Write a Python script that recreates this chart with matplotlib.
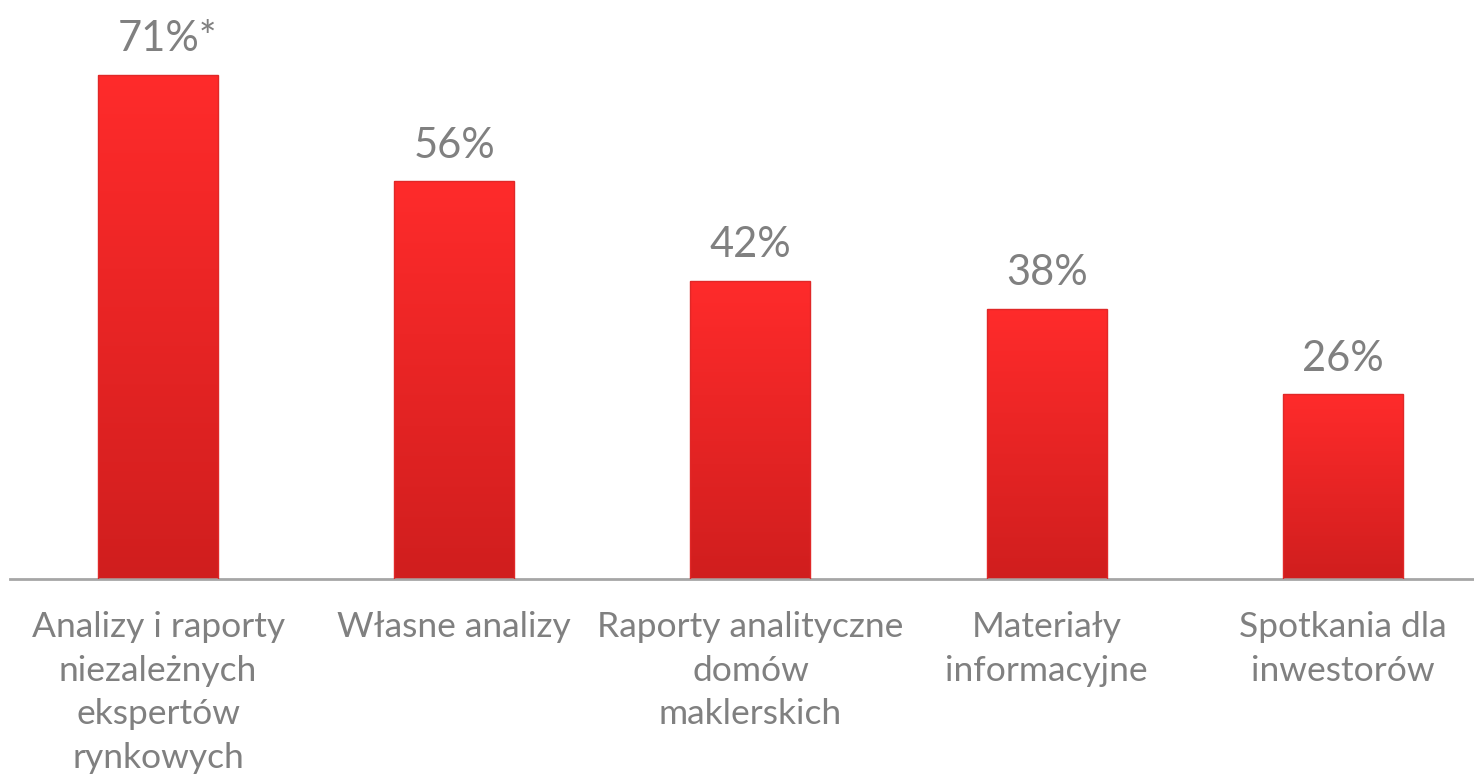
import matplotlib
matplotlib.use("Agg")
import matplotlib.pyplot as plt
import numpy as np
from matplotlib.colors import LinearSegmentedColormap

plt.rcParams["font.family"] = ["Lato", "DejaVu Sans"]

CATEGORIES = ["Analizy i raporty\nniezależnych\nekspertów\nrynkowych",
              "Własne analizy",
              "Raporty analityczne\ndomów\nmaklerskich",
              "Materiały\ninformacyjne",
              "Spotkania dla\ninwestorów"]
VALUES = [71, 56, 42, 38, 26]
LABELS = ["71%*", "56%", "42%", "38%", "26%"]

GREY = "#808080"
RED_TOP, RED_BOT = "#FF2B2B", "#D01E1E"

fig = plt.figure(figsize=(14.74, 7.78), dpi=100)
ax = fig.add_axes([10 / 1474, 199 / 778, 1 - 10 / 1474, 579 / 778])

x = np.arange(len(VALUES))
bars = ax.bar(x, VALUES, width=0.405, color="none", edgecolor="#E02828", lw=1.0, zorder=3)

# vertical gradient inside each bar
cmap = LinearSegmentedColormap.from_list("redgrad", [RED_BOT, RED_TOP])
grad = np.linspace(0, 1, 256).reshape(-1, 1)
for b in bars:
    x0, y0, w, h = b.get_x(), b.get_y(), b.get_width(), b.get_height()
    im = ax.imshow(grad, cmap=cmap, origin="lower", aspect="auto",
                   extent=(x0, x0 + w, y0, y0 + h), zorder=2)
    im.set_clip_path(b)

for xi, v, lab in zip(x, VALUES, LABELS):
    # the asterisk hangs to the right of the centred percentage
    ha = "left" if lab.endswith("*") else "center"
    dx = -29 if lab.endswith("*") else 0
    ax.annotate(lab, (xi, v), xytext=(dx, 17), textcoords="offset points",
                ha=ha, va="baseline", fontsize=30, color=GREY)

ax.set_xlim(-0.5, 4.443)
ax.set_ylim(0, 81.5)
ax.set_xticks(x)
ax.set_xticklabels(CATEGORIES, fontsize=25.5, color=GREY)
for t in ax.get_xticklabels():
    t.set_linespacing(1.45)
ax.tick_params(axis="x", length=0, pad=23)
ax.set_yticks([])
for s in ["top", "right", "left"]:
    ax.spines[s].set_visible(False)
ax.spines["bottom"].set_color("#A6A6A6")
ax.spines["bottom"].set_linewidth(2)

fig.savefig("out.png", dpi=100)
